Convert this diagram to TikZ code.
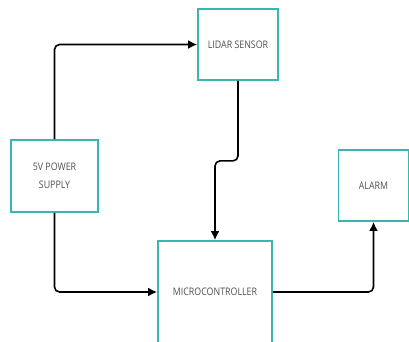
\documentclass[tikz,border=0pt]{standalone}
\usepackage{fontspec}
\setmainfont{Open Sans}[FakeStretch=0.85]
\usepackage{tikz}
\usetikzlibrary{arrows.meta, positioning, calc}
\definecolor{BoxTeal}{RGB}{58, 181, 176}
\definecolor{LabelGray}{RGB}{80, 80, 80}

\begin{document}
\begin{tikzpicture}[x=1pt, y=-1pt, >={Latex[length=9pt,width=9pt]},
        block/.style={draw=BoxTeal, line width=1.8pt, fill=white, inner sep=2pt,
            align=center, text=LabelGray, font=\fontsize{10.4}{18}\selectfont},
        link/.style={->, line width=1.6pt, rounded corners=5pt}]
        \useasboundingbox (0,0) rectangle (409,341);
        \clip (0,0) rectangle (409,341);
        % Blocks
        \node [block, minimum width=80pt, minimum height=71pt] (lidar) at (238,44.5) {LIDAR SENSOR};
        \node [block, minimum width=87pt, minimum height=72pt] (power) at (54.5,176) {5V POWER\\SUPPLY};
        \node [block, minimum width=70pt, minimum height=71pt] (alarm) at (373.5,185.5) {ALARM};
        \node [block, minimum width=114pt, minimum height=102pt] (micro) at (215,292) {MICROCONTROLLER};
        % Connections
        \draw [link] (power.north) |- (lidar.west);
        \draw [link] (lidar.south) -- ++(0,80) -| (micro.north);
        \draw [link] (power.south) |- (micro.west);
        \draw [link] (micro.east) -| (alarm.south);
    \end{tikzpicture}
\end{document}
